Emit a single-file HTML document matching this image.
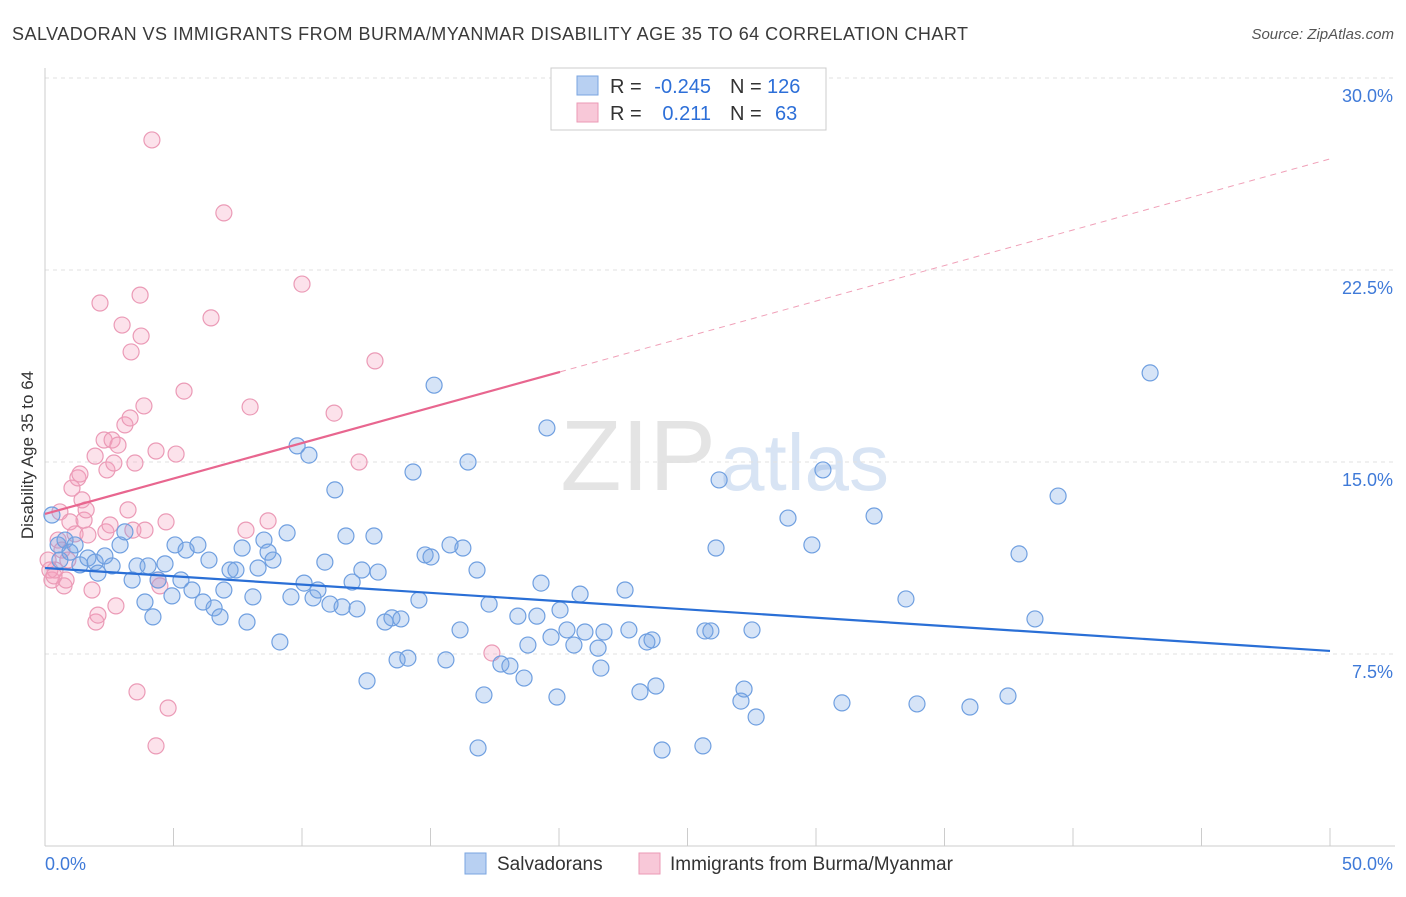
<!DOCTYPE html>
<html><head><meta charset="utf-8"><style>
body{margin:0;background:#fff;font-family:"Liberation Sans",sans-serif;}
svg text{font-family:"Liberation Sans",sans-serif;}
</style></head><body>
<svg id="chart" width="1406" height="892" xmlns="http://www.w3.org/2000/svg">
<text x="12" y="40" font-size="18" fill="#3a3a3a" textLength="956" lengthAdjust="spacing">SALVADORAN VS IMMIGRANTS FROM BURMA/MYANMAR DISABILITY AGE 35 TO 64 CORRELATION CHART</text>
<text x="1394" y="39" font-size="15" fill="#555" text-anchor="end" font-style="italic">Source: ZipAtlas.com</text>
<text x="716" y="490" font-size="100" fill="#e4e4e4" text-anchor="end" font-family="Liberation Serif">ZIP</text>
<text x="720" y="490" font-size="80" fill="#d8e4f4">atlas</text>
<g id="grid"></g>
<g id="axes"></g>
<g id="pts"></g>
<g id="trends"></g>
<text transform="translate(33,455) rotate(-90)" font-size="17" fill="#333" text-anchor="middle">Disability Age 35 to 64</text>
<g>
<rect x="551" y="68" width="275" height="62" fill="#fff" stroke="#ccc"/>
<rect x="577" y="76" width="21" height="19" fill="#b8d0f2" stroke="#7aa5e0"/>
<rect x="577" y="103" width="21" height="19" fill="#f8c8d8" stroke="#eb9ab6"/>
<text x="610" y="93" font-size="20" fill="#333">R =</text>
<text x="711" y="93" font-size="20" fill="#2d6fd8" text-anchor="end">-0.245</text>
<text x="730" y="93" font-size="20" fill="#333">N =</text>
<text x="767" y="93" font-size="20" fill="#2d6fd8">126</text>
<text x="610" y="120" font-size="20" fill="#333">R =</text>
<text x="711" y="120" font-size="20" fill="#2d6fd8" text-anchor="end">0.211</text>
<text x="730" y="120" font-size="20" fill="#333">N =</text>
<text x="775" y="120" font-size="20" fill="#2d6fd8">63</text>
</g>
<g>
<rect x="465" y="853" width="21" height="21" fill="#b8d0f2" stroke="#7aa5e0"/>
<text x="497" y="870" font-size="19" fill="#333">Salvadorans</text>
<rect x="639" y="853" width="21" height="21" fill="#f8c8d8" stroke="#eb9ab6"/>
<text x="670" y="870" font-size="19" fill="#333">Immigrants from Burma/Myanmar</text>
</g>
</svg>
<script>
const blueX=[.27,.51,.78,.97,.58,1.17,1.36,1.67,1.95,2.06,2.33,2.61,2.92,3.11,3.39,3.58,3.89,4.01,4.20,4.40,4.67,4.94,5.06,5.29,5.49,5.72,5.95,6.15,6.38,6.58,6.81,6.96,7.20,7.43,7.67,7.86,8.09,8.29,8.52,8.68,8.87,9.14,9.42,9.57,9.81,10.08,10.27,10.43,10.62,10.89,11.09,11.28,11.56,11.71,11.95,12.14,12.33,12.53,12.80,12.96,13.23,13.50,13.70,13.85,14.12,14.32,14.55,14.79,15.02,15.14,15.60,15.76,16.15,16.26,16.46,16.81,16.85,17.08,17.28,17.74,18.09,18.40,18.64,18.79,19.14,19.30,19.53,19.69,19.92,20.04,20.31,20.58,20.82,21.01,21.52,21.63,21.75,22.57,22.72,23.15,23.42,23.62,23.77,24.01,25.60,25.68,25.91,26.11,26.23,27.08,27.20,27.51,27.67,28.91,29.84,30.27,31.01,32.26,33.50,33.93,35.99,37.47,37.90,38.52,39.42,43.00];
const blueY=[12.93,11.76,11.95,11.48,11.17,11.76,10.98,11.25,11.09,10.66,11.33,10.94,11.76,12.27,10.39,10.94,9.53,10.94,8.95,10.39,11.02,9.77,11.76,10.39,11.56,10.0,11.76,9.53,11.17,9.30,8.95,10.0,10.78,10.78,11.64,8.75,9.73,10.86,11.95,11.48,11.17,7.97,12.23,9.73,15.63,10.27,15.27,9.69,10.0,11.09,9.45,13.91,9.34,12.11,10.31,9.26,10.78,6.45,12.11,10.70,8.75,8.91,7.27,8.87,7.34,14.61,9.61,11.37,11.29,18.0,7.27,11.76,8.44,11.64,15.0,10.78,3.83,5.90,9.45,7.11,7.03,8.98,6.56,7.85,8.98,10.27,16.33,8.16,5.82,9.22,8.44,7.85,9.84,8.36,7.73,6.95,8.36,10.0,8.44,6.02,7.97,8.05,6.25,3.75,3.91,8.40,8.40,11.64,14.30,5.66,6.13,8.44,5.04,12.81,11.76,14.69,5.59,12.89,9.65,5.55,5.43,5.86,11.41,8.87,13.67,18.48];
const pinkX=[.27,.39,.51,.58,.66,.74,.82,.97,1.05,1.17,1.28,1.36,1.44,1.52,1.60,1.67,1.83,1.95,1.98,2.06,2.14,2.30,2.37,2.41,2.53,2.61,2.68,2.76,2.84,3.0,3.11,3.23,3.31,3.42,3.50,3.58,3.70,3.74,3.85,3.89,4.16,4.32,4.32,4.40,4.47,4.71,4.79,5.10,5.41,6.46,6.96,7.82,7.98,8.68,10.0,11.25,12.22,12.84,17.39,.12,.19,.35,.89,3.35];
const pinkY=[10.39,10.78,11.95,13.05,11.56,10.16,10.39,12.66,13.98,12.19,14.38,14.53,13.52,12.73,13.13,12.15,10.0,15.23,8.75,9.02,21.21,15.86,12.27,14.69,12.54,15.86,14.96,9.38,15.66,20.35,16.45,13.13,16.72,12.34,14.96,6.02,21.52,19.92,17.19,12.34,27.58,3.91,15.43,10.39,10.16,12.66,5.39,15.31,17.77,20.63,24.73,12.34,17.15,12.70,21.95,16.91,15.0,18.95,7.54,11.17,10.78,10.55,11.17,19.3];
const blueTrend=[[0,10.86],[50,7.62]];
const pinkTrend=[[0,12.97],[20.04,18.52],[50,26.84]];
const yTicks=[7.5,15,22.5,30];
const xTicks=[0,5,10,15,20,25,30,35,40,45,50];
const NS="http://www.w3.org/2000/svg";
const sx=v=>45+v*25.7;
const sy=v=>654-(v-7.5)*25.6;
function mk(p,t,a){const e=document.createElementNS(NS,t);for(const k in a)e.setAttribute(k,a[k]);p.appendChild(e);return e;}
const grid=document.getElementById('grid'),axes=document.getElementById('axes'),pts=document.getElementById('pts'),tr=document.getElementById('trends');
yTicks.forEach(v=>{
 const l=mk(grid,'line',{x1:45,x2:1395,y1:sy(v),y2:sy(v),stroke:'#e2e2e2','stroke-dasharray':'4,4'});
 
 
 const t=mk(axes,'text',{x:1393,y:sy(v)+24,'font-size':18,fill:'#3f7ad8','text-anchor':'end'});
 t.textContent=v.toFixed(1)+'%';
 
 
});
const al=mk(axes,'line',{x1:45,x2:45,y1:68,y2:846,stroke:'#ccc'});


const bl=mk(axes,'line',{x1:45,x2:1395,y1:846,y2:846,stroke:'#ccc'});


xTicks.forEach(v=>{
 const l=mk(axes,'line',{x1:sx(v),x2:sx(v),y1:828,y2:846,stroke:'#ccc'});
 
 
});
[[0,'start',45],[50,'end',1393]].forEach(([v,a,x])=>{
 const t=mk(axes,'text',{x:x,y:870,'font-size':18,fill:'#3f7ad8','text-anchor':a});
 t.textContent=v.toFixed(1)+'%';
 
 
});
pinkX.forEach((x,i)=>{
 const c=mk(pts,'circle',{cx:sx(x),cy:sy(pinkY[i]),r:8,fill:'rgba(245,160,190,0.3)',stroke:'#eb9ab6','stroke-width':1.2});
 
 
});
blueX.forEach((x,i)=>{
 const c=mk(pts,'circle',{cx:sx(x),cy:sy(blueY[i]),r:8,fill:'rgba(120,165,230,0.3)',stroke:'#6f9fe0','stroke-width':1.2});
 
 
});
const b=mk(tr,'line',{x1:sx(blueTrend[0][0]),y1:sy(blueTrend[0][1]),x2:sx(blueTrend[1][0]),y2:sy(blueTrend[1][1]),stroke:'#2a6fd6','stroke-width':2.2});


const p1=mk(tr,'line',{x1:sx(pinkTrend[0][0]),y1:sy(pinkTrend[0][1]),x2:sx(pinkTrend[1][0]),y2:sy(pinkTrend[1][1]),stroke:'#e8668f','stroke-width':2.2});


const p2=mk(tr,'line',{x1:sx(pinkTrend[1][0]),y1:sy(pinkTrend[1][1]),x2:sx(pinkTrend[2][0]),y2:sy(pinkTrend[2][1]),stroke:'#f0a0b8','stroke-width':1,'stroke-dasharray':'6,5'});


</script>
</body></html>
